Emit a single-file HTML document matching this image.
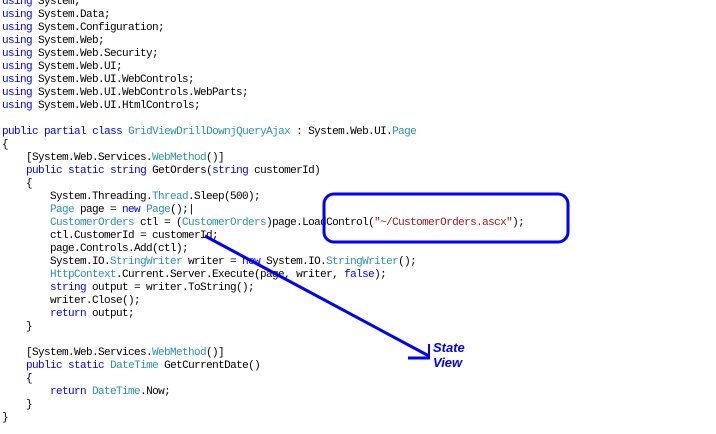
<!DOCTYPE html>
<html><head><style>
html,body{margin:0;padding:0;background:#fff;width:716px;height:434px;overflow:hidden;position:relative}
pre{position:absolute;left:2px;top:-4px;margin:0;font-family:"Liberation Mono",monospace;font-size:11px;letter-spacing:-0.6px;line-height:13px;color:#000}
.k{color:#0000ff}.t{color:#2b91af}.s{color:#a31515}
</style></head><body>
<pre><span class="k">using</span> System;
<span class="k">using</span> System.Data;
<span class="k">using</span> System.Configuration;
<span class="k">using</span> System.Web;
<span class="k">using</span> System.Web.Security;
<span class="k">using</span> System.Web.UI;
<span class="k">using</span> System.Web.UI.WebControls;
<span class="k">using</span> System.Web.UI.WebControls.WebParts;
<span class="k">using</span> System.Web.UI.HtmlControls;

<span class="k">public</span> <span class="k">partial</span> <span class="k">class</span> <span class="t">GridViewDrillDownjQueryAjax</span> : System.Web.UI.<span class="t">Page</span>
{
    [System.Web.Services.<span class="t">WebMethod</span>()]
    <span class="k">public</span> <span class="k">static</span> <span class="k">string</span> GetOrders(<span class="k">string</span> customerId)
    {
        System.Threading.<span class="t">Thread</span>.Sleep(500);
        <span class="t">Page</span> page = <span class="k">new</span> <span class="t">Page</span>();|
        <span class="t">CustomerOrders</span> ctl = (<span class="t">CustomerOrders</span>)page.LoadControl(<span class="s">"~/CustomerOrders.ascx"</span>);
        ctl.CustomerId = customerId;
        page.Controls.Add(ctl);
        System.IO.<span class="t">StringWriter</span> writer = <span class="k">new</span> System.IO.<span class="t">StringWriter</span>();
        <span class="t">HttpContext</span>.Current.Server.Execute(page, writer, <span class="k">false</span>);
        <span class="k">string</span> output = writer.ToString();
        writer.Close();
        <span class="k">return</span> output;
    }

    [System.Web.Services.<span class="t">WebMethod</span>()]
    <span class="k">public</span> <span class="k">static</span> <span class="t">DateTime</span> GetCurrentDate()
    {
        <span class="k">return</span> <span class="t">DateTime</span>.Now;
    }
}</pre>
<svg width="716" height="434" style="position:absolute;left:0;top:0">
<rect x="324" y="194" width="244" height="48" rx="10" fill="none" stroke="#0000ff" stroke-width="3"/>
<line x1="205" y1="236" x2="429" y2="356" stroke="#0000ff" stroke-width="3"/>
<line x1="408" y1="358" x2="430" y2="358" stroke="#0000ff" stroke-width="3"/>
<line x1="429" y1="344" x2="429" y2="358" stroke="#0000ff" stroke-width="2"/>
<text x="433" y="352" font-family="Liberation Sans,sans-serif" font-size="13" font-weight="bold" font-style="italic" fill="#0000ff">State</text>
<text x="433" y="367" font-family="Liberation Sans,sans-serif" font-size="13" font-weight="bold" font-style="italic" fill="#0000ff">View</text>
</svg>
</body></html>
